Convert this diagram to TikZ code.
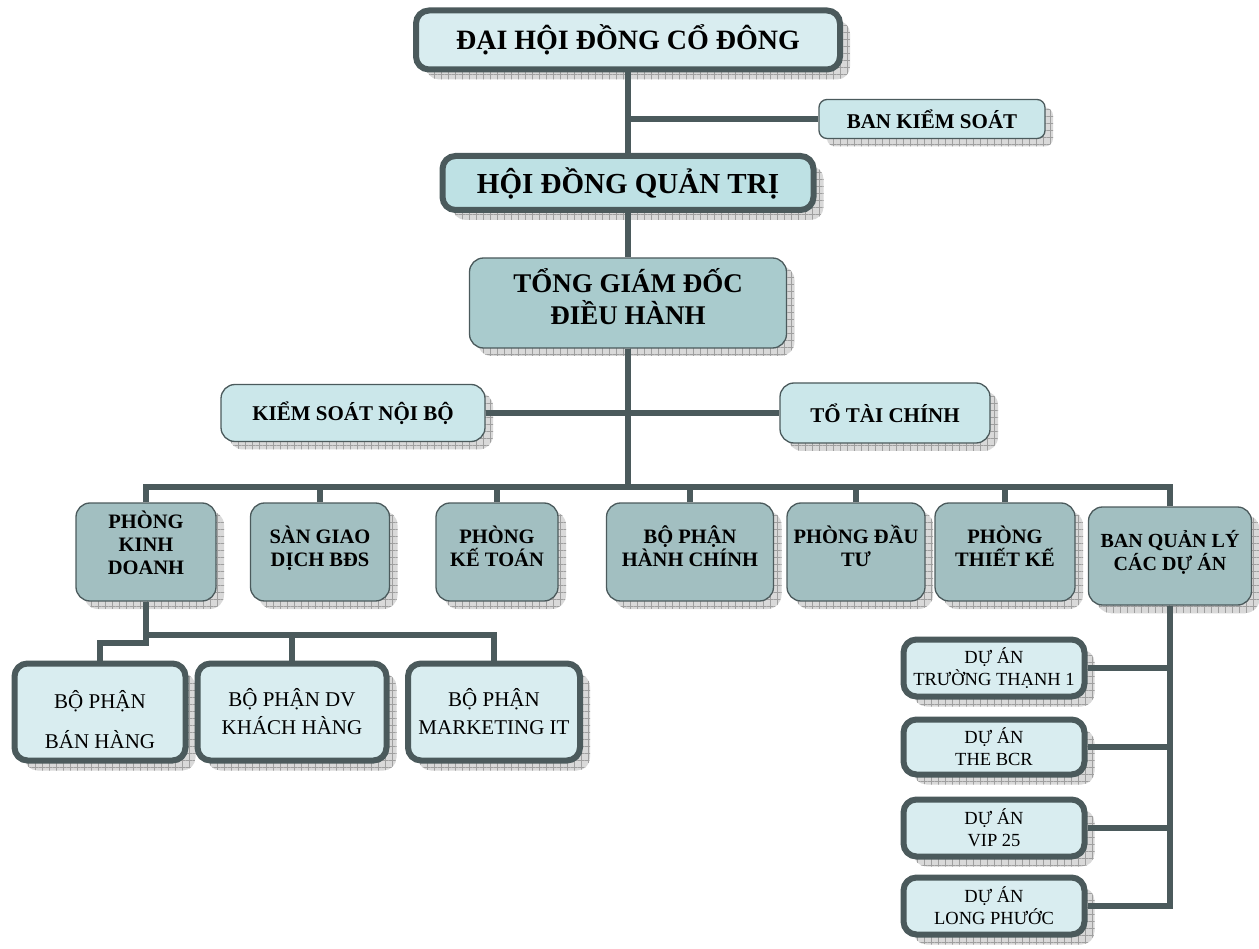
\documentclass[tikz,border=0pt]{standalone}
\usepackage{fontspec}
\setmainfont{Liberation Serif}
\usetikzlibrary{
		shadows,
		patterns.meta,
		calc
	}
\definecolor{edge}{RGB}{75,90,92}
\definecolor{pale}{RGB}{217,237,240}
\definecolor{aqua}{RGB}{190,225,228}
\definecolor{mist}{RGB}{203,231,234}
\definecolor{sea}{RGB}{169,203,205}
\definecolor{deep}{RGB}{162,191,193}
\tikzset{
		boxshadow/.style={
			general shadow={shadow xshift=#1, shadow yshift=-#1, fill=gray!30},
			general shadow={shadow xshift=#1, shadow yshift=-#1, pattern={Hatch[distance=7pt,line width=.7pt]}, pattern color=gray!75}},
		link/.style={draw=edge, line width=5.5pt},
		heavy/.style={draw=edge, line width=6pt, rounded corners=13pt, fill=pale, inner sep=0pt, align=center, boxshadow=10pt},
		light/.style={draw=edge, line width=1.3pt, rounded corners=14pt, inner sep=0pt, align=center, boxshadow=8pt},
		dept/.style={light, fill=deep, minimum height=98pt, text depth=12pt, font=\fontsize{20.5}{23}\selectfont\bfseries},
		unit/.style={heavy, minimum height=97pt, font=\fontsize{21}{28}\selectfont},
		proj/.style={heavy, minimum width=181pt, minimum height=57pt, font=\fontsize{18.5}{22}\selectfont}
	}

\begin{document}
\begin{tikzpicture}[x=1pt, y=-1pt] % one unit = one pixel of the chart, y going down
		\useasboundingbox (0,0) rectangle (1259,949);
		% top of the chart
		\node[heavy, minimum width=424pt, minimum height=59pt, font=\fontsize{28}{32}\selectfont\bfseries] (dhdcd) at (628,40) {ĐẠI HỘI ĐỒNG CỔ ĐÔNG};
		\node[light, fill=mist, minimum width=226pt, minimum height=39pt, rounded corners=8pt, font=\fontsize{21}{24}\selectfont\bfseries] (bks) at (932,119) {BAN KIỂM SOÁT};
		\node[heavy, fill=aqua, minimum width=371pt, minimum height=54pt, font=\fontsize{29}{32}\selectfont\bfseries] (hdqt) at (628,183) {HỘI ĐỒNG QUẢN TRỊ};
		\node[light, fill=sea, minimum width=317pt, minimum height=90pt, text depth=14pt, font=\fontsize{27}{32}\selectfont\bfseries] (tgd) at (628,303) {TỔNG GIÁM ĐỐC\\ĐIỀU HÀNH};
		\node[light, fill=mist, minimum width=264pt, minimum height=57pt, font=\fontsize{21}{24}\selectfont\bfseries] (ksnb) at (353,413) {KIỂM SOÁT NỘI BỘ};
		\node[light, fill=mist, minimum width=210pt, minimum height=60pt, font=\fontsize{21}{24}\selectfont\bfseries] (ttc) at (885,413) {TỔ TÀI CHÍNH};
		% departments
		\node[dept, minimum width=140pt, text depth=18pt] (pkd) at (146,552) {PHÒNG\\KINH\\DOANH};
		\node[dept, minimum width=139pt] (sgd) at (320,552) {SÀN GIAO\\DỊCH BĐS};
		\node[dept, minimum width=122pt] (pkt) at (497,552) {PHÒNG\\KẾ TOÁN};
		\node[dept, minimum width=167pt] (bphc) at (690,552) {BỘ PHẬN\\HÀNH CHÍNH};
		\node[dept, minimum width=138pt] (pdt) at (856,552) {PHÒNG ĐẦU\\TƯ};
		\node[dept, minimum width=140pt] (ptk) at (1005,552) {PHÒNG\\THIẾT KẾ};
		\node[dept, minimum width=163pt, font=\fontsize{20}{23}\selectfont\bfseries] (bql) at (1170,556) {BAN QUẢN LÝ\\CÁC DỰ ÁN};
		% units under the sales department
		\node[unit, minimum width=171pt, text height=73pt, font=\fontsize{21}{40}\selectfont] (bpbh) at (100,712) {BỘ PHẬN\\BÁN HÀNG};
		\node[unit, minimum width=189pt] (bpdv) at (292,712) {BỘ PHẬN DV\\KHÁCH HÀNG};
		\node[unit, minimum width=172pt] (bpmkt) at (494,712) {BỘ PHẬN\\MARKETING IT};
		% projects
		\node[proj] (tt1) at (994,668) {DỰ ÁN\\TRƯỜNG THẠNH 1};
		\node[proj, minimum height=55pt] (bcr) at (994,747) {DỰ ÁN\\THE BCR};
		\node[proj] (vip) at (994,828) {DỰ ÁN\\VIP 25};
		\node[proj] (lp) at (994,906) {DỰ ÁN\\LONG PHƯỚC};

		\coordinate (bus) at (628,487);
		\coordinate (subbus) at (146,635);
		\coordinate (jog) at (146,643);
		\draw[link] (dhdcd.south) -- (hdqt.north) (hdqt.south) -- (tgd.north);
		\draw[link] (dhdcd.south |- bks.west) -- (bks.west);
		\draw[link] (tgd.south) -- (bus);
		\draw[link] (ksnb.east) -- (tgd.south |- ksnb.east) -- (ttc.west);
		\draw[link] (pkd.north) |- (bus) -| (bql.north);
		\foreach \d in {sgd,pkt,bphc,pdt,ptk}
			\draw[link] (\d.north) -- (\d.north |- bus);
		\draw[link] (pkd.south) -- (jog) -| (bpbh.north);
		\draw[link] (subbus) -| (bpmkt.north);
		\draw[link] (bpdv.north) -- (bpdv.north |- subbus);
		\draw[link] (bql.south) |- (lp.east);
		\foreach \p in {tt1,bcr,vip}
			\draw[link] (\p.east) -- (bql.south |- \p.east);
\end{tikzpicture}
\end{document}
